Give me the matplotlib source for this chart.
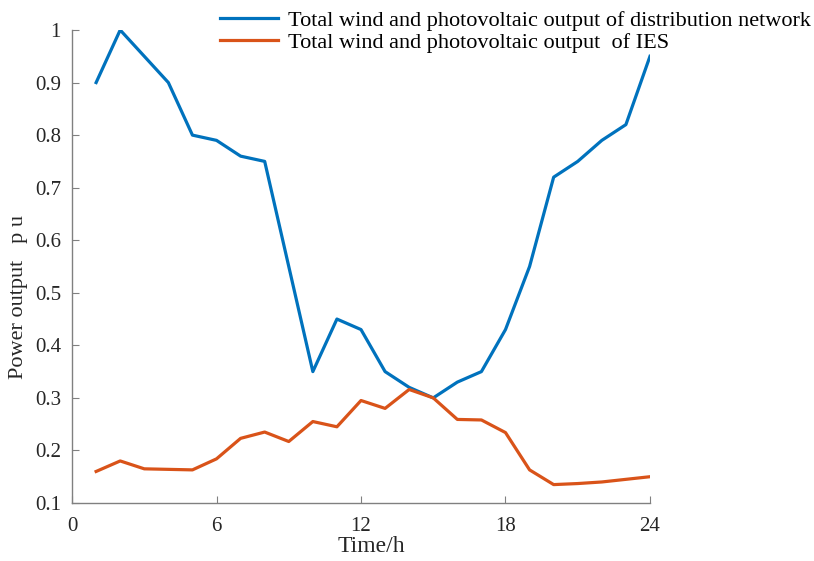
import numpy as np
import matplotlib.pyplot as plt

# Hourly wind + PV output (p.u.)
hours = np.arange(1, 25)
dn_output = [0.90, 1.00, 0.95, 0.90, 0.80, 0.79, 0.76, 0.75, 0.55, 0.35, 0.45, 0.43,
             0.35, 0.32, 0.30, 0.33, 0.35, 0.43, 0.55, 0.72, 0.75, 0.79, 0.82, 0.95]
ies_output = [0.160, 0.180, 0.165, 0.164, 0.163, 0.184, 0.223, 0.235, 0.217, 0.255, 0.245, 0.295,
              0.280, 0.316, 0.300, 0.259, 0.258, 0.234, 0.163, 0.135, 0.137, 0.140, 0.145, 0.150]

x_ticks = [0, 6, 12, 18, 24]
y_ticks = [0.1, 0.2, 0.3, 0.4, 0.5, 0.6, 0.7, 0.8, 0.9, 1.0]
y_ticklabels = ["0.1", "0.2", "0.3", "0.4", "0.5", "0.6", "0.7", "0.8", "0.9", "1"]

plt.rcParams['font.family'] = ['Liberation Serif', 'DejaVu Serif']
plt.rcParams['font.size'] = 14

fig = plt.figure(figsize=(8.14, 5.61), dpi=100)
ax = fig.add_axes([0.0885, 0.1034, 0.71, 0.8431])

ax.plot(hours, dn_output, color='#0072BD', linewidth=2.3,
        label="Total wind and photovoltaic output of distribution network")
ax.plot(hours, ies_output, color='#D95319', linewidth=2.3,
        label="Total wind and photovoltaic output  of IES")

ax.set_xlim(0, 24)
ax.set_ylim(0.1, 1.0)
ax.set_xticks(x_ticks)
ax.set_yticks(y_ticks)
ax.set_yticklabels(y_ticklabels)

# only left/bottom axis lines, ticks pointing inward
for side in ['top', 'right']:
    ax.spines[side].set_visible(False)
for side in ['left', 'bottom']:
    ax.spines[side].set_color('#808080')
    ax.spines[side].set_linewidth(1.0)
ax.tick_params(direction='in', length=5, color='#808080', labelcolor='#262626',
               labelsize=15)
ax.tick_params(axis='x', pad=10)
ax.tick_params(axis='y', pad=8)

ax.set_xlabel("Time/h", fontsize=17, color='#262626')
ax.xaxis.set_label_coords(0.518, -0.07)
ax.set_ylabel("Power output   p u", fontsize=16, color='#262626')
ax.yaxis.set_label_coords(-0.076, 0.435)

fig.legend(loc='upper right', bbox_to_anchor=(1.012, 1.005), frameon=False,
           fontsize=16, handlelength=2.6, handletextpad=0.45,
           labelspacing=0.05, borderaxespad=0.2)

fig.savefig("out.png", dpi=100)
